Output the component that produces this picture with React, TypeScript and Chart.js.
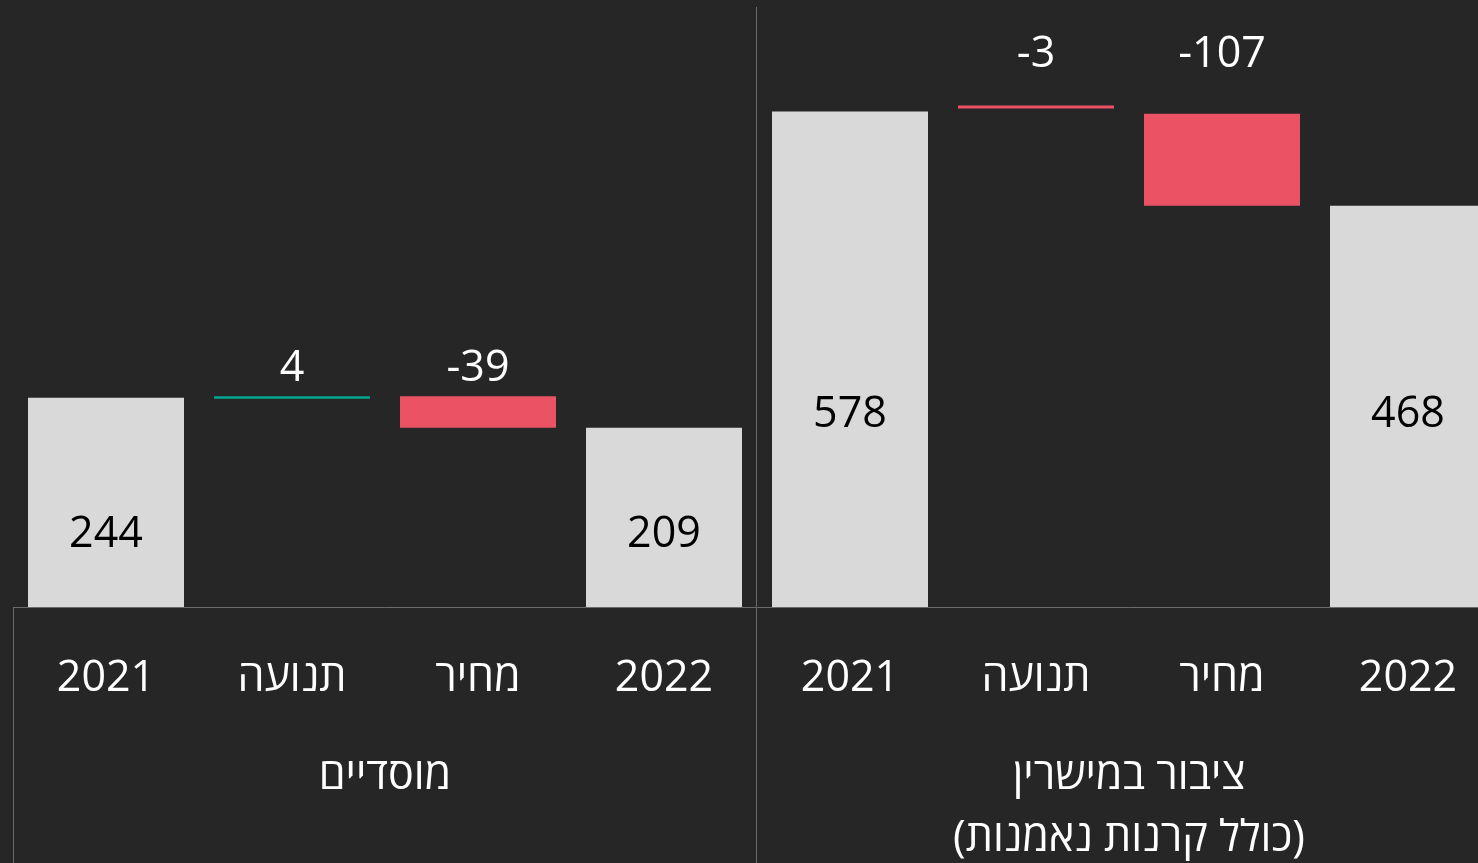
import React, { useEffect, useRef } from 'react';
import { Chart, registerables } from 'chart.js';

Chart.register(...registerables);

// ---- data ----
const categories = ['2021', 'תנועה', 'מחיר', '2022', '2021', 'תנועה', 'מחיר', '2022'];
const groupLabels = ['מוסדיים', ['ציבור במישרין', '(כולל קרנות נאמנות)']];
const values = [244, 4, -39, 209, 578, -3, -107, 468];
const barFrom = [0, 243, 209, 0, 0, 581.5, 468, 0];
const barTo = [244, 246, 246, 209, 578, 585, 575.5, 468];
const barKind = ['total', 'up', 'down', 'total', 'total', 'down', 'down', 'total'];
const labelAt = [70, 264, 264, 70, 210, 630, 630, 210];

// ---- style ----
const FONT = '"Open Sans", "Liberation Sans", "DejaVu Sans", sans-serif';
const BG = '#262626';
const LINE = '#6b6b6b';
const COLORS: Record<string, string> = { total: '#d9d9d9', up: '#00a890', down: '#eb5264' };
const TEXT_SIZE = 43;

const valueLabelPlugin = {
  id: 'valueLabels',
  afterDatasetsDraw(chart: any) {
    const { ctx } = chart;
    const meta = chart.getDatasetMeta(0);
    const y = chart.scales.y;
    ctx.save();
    ctx.direction = 'ltr';
    ctx.font = `${TEXT_SIZE}px ${FONT}`;
    ctx.textAlign = 'center';
    ctx.textBaseline = 'alphabetic';
    meta.data.forEach((bar: any, i: number) => {
      ctx.fillStyle = barKind[i] === 'total' ? '#000000' : '#ffffff';
      ctx.fillText(String(values[i]), bar.x, y.getPixelForValue(labelAt[i]));
    });
    ctx.restore();
  },
};

const dividerPlugin = {
  id: 'dividers',
  afterDraw(chart: any) {
    const { ctx, chartArea } = chart;
    const x = chart.scales.x;
    const bottom = chart.height;
    const mid = (x.left + x.right) / 2;
    ctx.save();
    ctx.strokeStyle = LINE;
    ctx.lineWidth = 1;
    ctx.beginPath();
    [x.left, x.right].forEach((px: number) => {
      const p = Math.round(px) + 0.5;
      ctx.moveTo(p, chartArea.bottom);
      ctx.lineTo(p, bottom);
    });
    const m = Math.round(mid) - 0.5;
    ctx.moveTo(m, chartArea.top);
    ctx.lineTo(m, bottom);
    ctx.stroke();
    ctx.restore();
  },
};

export default function App() {
  const ref = useRef<HTMLCanvasElement>(null);

  useEffect(() => {
    document.body.style.margin = '0';
    document.body.style.background = BG;
    Chart.defaults.font.family = FONT;
    const canvas = ref.current!;
    const chart = new Chart(canvas, {
      type: 'bar',
      data: {
        labels: categories,
        datasets: [
          {
            data: categories.map((_, i) => [barFrom[i], barTo[i]]) as any,
            backgroundColor: barKind.map((k) => COLORS[k]),
            borderWidth: 0,
            barPercentage: 156 / 186,
            categoryPercentage: 1,
          },
        ],
      },
      options: {
        responsive: false,
        animation: false,
        layout: { padding: { left: 13, right: 19, top: 7, bottom: 0 } },
        plugins: { legend: { display: false }, tooltip: { enabled: false } },
        scales: {
          y: { display: false, min: 0, max: 700 },
          x: {
            position: 'bottom',
            weight: 0,
            offset: true,
            z: 1,
            grid: { display: false, drawTicks: false },
            border: { display: true, color: LINE, width: 1 },
            ticks: {
              color: '#ffffff',
              font: { size: TEXT_SIZE },
              padding: 46,
              maxRotation: 0,
              autoSkip: false,
            },
            afterFit: (s: any) => {
              s.height = 96;
            },
          },
          x2: {
            type: 'category',
            labels: groupLabels as any,
            position: 'bottom',
            weight: 1,
            offset: true,
            grid: { display: false, drawTicks: false },
            border: { display: false },
            ticks: {
              color: '#ffffff',
              font: { size: TEXT_SIZE, lineHeight: '62px' },
              padding: 43,
              maxRotation: 0,
              autoSkip: false,
            },
            afterFit: (s: any) => {
              s.height = 160;
            },
          },
        } as any,
      },
      plugins: [valueLabelPlugin, dividerPlugin],
    });
    return () => chart.destroy();
  }, []);

  return (
    <div style={{ position: 'fixed', left: 0, top: 0, right: 0, bottom: 0, overflow: 'hidden', background: BG }}>
      <canvas
        ref={ref}
        width={1520}
        height={863}
        dir="rtl"
        style={{ display: 'block', direction: 'rtl', width: 1520, height: 863 }}
      />
    </div>
  );
}
